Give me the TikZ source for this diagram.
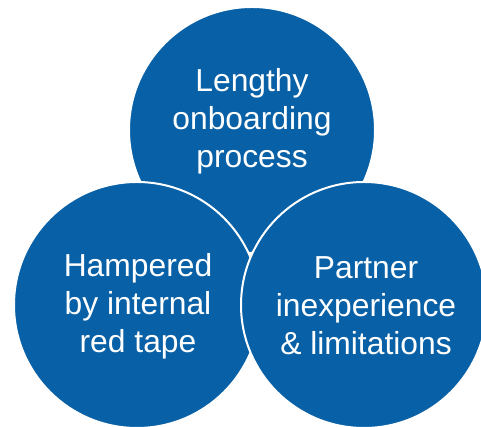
\documentclass[tikz,border=0pt]{standalone}
\usepackage{fontspec}
\setmainfont{Liberation Sans}
\definecolor{bblue}{RGB}{8,96,166}
\begin{document}
\begin{tikzpicture}[x=1pt,y=1pt,
  bubble/.style={circle,fill=bblue,draw=white,line width=2pt,minimum size=246pt,inner sep=0pt},
  btext/.style={text=white,align=center,font=\fontsize{31.8}{38}\selectfont}]
\useasboundingbox (0,0) rectangle (481,427);
\node[bubble] (top) at (252,297) {};
\node[bubble] (left) at (137,122) {};
\node[bubble] (right) at (364,122) {};
\node[btext] (ttop) at ([yshift=9pt]top.center) {Lengthy\\onboarding\\process};
\node[btext] (tleft) at ([xshift=1pt,yshift=-1pt]left.center) {Hampered\\by internal\\red tape};
\node[btext] (tright) at ([xshift=2pt,yshift=-1pt]right.center) {Partner\\inexperience\\\& limitations};
\end{tikzpicture}
\end{document}
